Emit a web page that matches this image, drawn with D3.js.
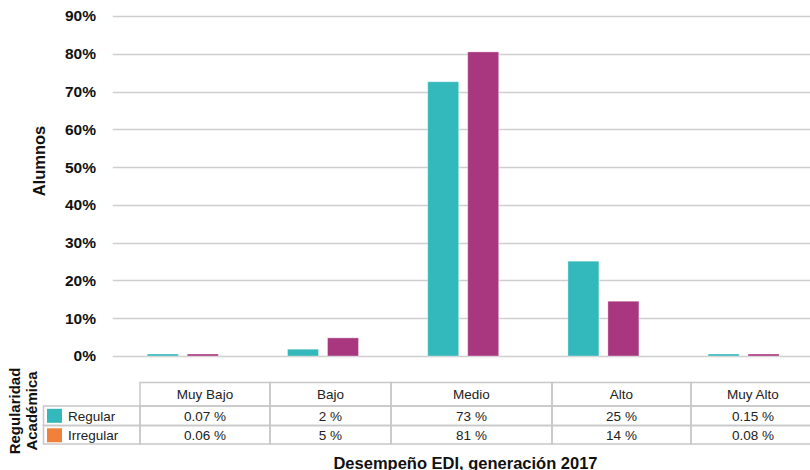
<!DOCTYPE html>
<html>
<head>
<meta charset="utf-8">
<script src="https://cdn.jsdelivr.net/npm/d3@7"></script>
<style>
  html, body { margin: 0; padding: 0; background: #fff; }
  svg { display: block; font-family: "Liberation Sans", Arial, Helvetica, sans-serif; }
</style>
</head>
<body>
<svg id="chart" width="810" height="470"></svg>
<script>
const categories = ["Muy Bajo", "Bajo", "Medio", "Alto", "Muy Alto"];
const seriesNames = ["Regular", "Irregular"];
const regularValues = [0.07, 1.8, 72.6, 25.1, 0.15];
const irregularValues = [0.06, 4.8, 80.5, 14.5, 0.08];
const regularLabels = ["0.07 %", "2 %", "73 %", "25 %", "0.15 %"];
const irregularLabels = ["0.06 %", "5 %", "81 %", "14 %", "0.08 %"];
const yTicks = [0, 10, 20, 30, 40, 50, 60, 70, 80, 90];

const barColors = ["#33b8bc", "#a8377f"];
const legendColors = ["#33b8bc", "#f0803a"];

const svg = d3.select("#chart");
const plotLeft = 112.7, plotRight = 813.7, plotTop = 16, plotBottom = 356;

const x0 = d3.scaleBand().domain(categories).range([plotLeft, plotRight]).padding(0);
const bw = x0.bandwidth();
const x1 = d3.scaleBand().domain(seriesNames).range([bw / 2 - 35.5, bw / 2 + 35.5]).paddingInner(0.225).paddingOuter(0);
const y = d3.scaleLinear().domain([0, 90]).range([plotBottom, plotTop]);

// gridlines
svg.append("g").selectAll("line").data(yTicks).join("line")
  .attr("x1", plotLeft).attr("x2", 810)
  .attr("y1", d => Math.round(y(d)) + 0.5).attr("y2", d => Math.round(y(d)) + 0.5)
  .attr("stroke", "#cfcfcf").attr("stroke-width", 1.5);

// y axis labels
const yAxis = d3.axisLeft(y).tickValues(yTicks).tickFormat(d => d + "%").tickSize(0).tickPadding(0);
const yg = svg.append("g").attr("transform", `translate(96,0)`).call(yAxis);
yg.select(".domain").remove();
yg.selectAll("text").attr("font-size", 15.5).attr("font-weight", "bold").attr("fill", "#111")
  .attr("font-family", "'Liberation Sans', Arial, sans-serif");

// y title
svg.append("text").attr("transform", "translate(45,161) rotate(-90)")
  .attr("text-anchor", "middle").attr("font-size", 16.5).attr("font-weight", "bold").attr("fill", "#111")
  .text("Alumnos");

// bars
const data = categories.map((c, i) => ({ cat: c, vals: [regularValues[i], irregularValues[i]] }));
const groups = svg.append("g").selectAll("g").data(data).join("g")
  .attr("transform", d => `translate(${x0(d.cat)},0)`);
groups.selectAll("rect").data(d => d.vals.map((v, j) => ({ v, s: seriesNames[j], j })))
  .join("rect")
  .attr("x", d => x1(d.s))
  .attr("width", x1.bandwidth())
  .attr("y", d => plotBottom - Math.max(2, plotBottom - y(d.v)))
  .attr("height", d => Math.max(2, plotBottom - y(d.v)))
  .attr("fill", d => barColors[d.j])
  .attr("stroke", "#ffffff").attr("stroke-opacity", 0.35).attr("stroke-width", 1);

// data table
const colEdges = [140, 270, 391, 552, 691, 815];
const rowEdges = [382.5, 406, 425.5, 444];
const legendLeft = 43.5;
const tableColor = "#c8c8c8";
const tg = svg.append("g");

categories.forEach((c, i) => {
  tg.append("rect").attr("x", colEdges[i]).attr("y", rowEdges[0])
    .attr("width", colEdges[i + 1] - colEdges[i]).attr("height", rowEdges[1] - rowEdges[0])
    .attr("fill", "none").attr("stroke", tableColor).attr("stroke-width", 1.5);
  tg.append("text").attr("x", (colEdges[i] + colEdges[i + 1]) / 2).attr("y", (rowEdges[0] + rowEdges[1]) / 2 + 5)
    .attr("text-anchor", "middle").attr("font-size", 13.5).attr("fill", "#222").text(c);
});

const rowLabels = [regularLabels, irregularLabels];
seriesNames.forEach((s, r) => {
  const yTop = rowEdges[r + 1], yBot = rowEdges[r + 2];
  tg.append("rect").attr("x", legendLeft).attr("y", yTop)
    .attr("width", colEdges[0] - legendLeft).attr("height", yBot - yTop)
    .attr("fill", "none").attr("stroke", tableColor).attr("stroke-width", 1.5);
  tg.append("rect").attr("x", 47).attr("y", yTop + 2.8).attr("width", 15).attr("height", 14)
    .attr("fill", legendColors[r]);
  tg.append("text").attr("x", 68).attr("y", (yTop + yBot) / 2 + 5)
    .attr("font-size", 13.5).attr("fill", "#222").text(s);
  categories.forEach((c, i) => {
    tg.append("rect").attr("x", colEdges[i]).attr("y", yTop)
      .attr("width", colEdges[i + 1] - colEdges[i]).attr("height", yBot - yTop)
      .attr("fill", "none").attr("stroke", tableColor).attr("stroke-width", 1.5);
    tg.append("text").attr("x", (colEdges[i] + colEdges[i + 1]) / 2).attr("y", (yTop + yBot) / 2 + 5)
      .attr("text-anchor", "middle").attr("font-size", 13.5).attr("fill", "#222").text(rowLabels[r][i]);
  });
});

// legend title (rotated)
svg.append("text").attr("transform", "translate(20,411) rotate(-90)")
  .attr("text-anchor", "middle").attr("font-size", 15).attr("font-weight", "bold").attr("fill", "#111")
  .text("Regularidad");
svg.append("text").attr("transform", "translate(37,411) rotate(-90)")
  .attr("text-anchor", "middle").attr("font-size", 15).attr("font-weight", "bold").attr("fill", "#111")
  .text("Académica");

// x title
svg.append("text").attr("x", 465.5).attr("y", 469).attr("text-anchor", "middle")
  .attr("font-size", 16.5).attr("font-weight", "bold").attr("fill", "#111")
  .text("Desempeño EDI, generación 2017");
</script>
</body>
</html>
